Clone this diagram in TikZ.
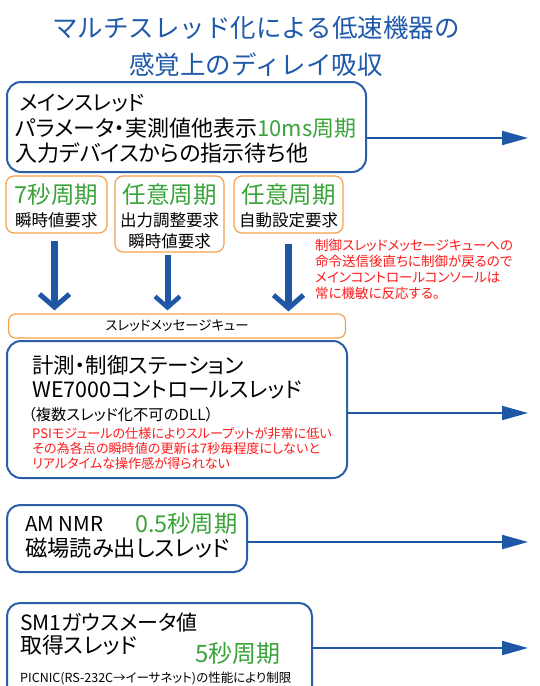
\documentclass[tikz,border=0pt]{standalone}
\usepackage{fontspec}
\setmainfont{Noto Sans CJK JP}[RawFeature=+palt]
\newfontfamily\titlefont{Noto Sans CJK JP}
\usetikzlibrary{arrows.meta}
\definecolor{boxblue}{HTML}{2A5EA8}
\definecolor{arrblue}{HTML}{1F56A6}
\definecolor{orng}{HTML}{F5A04A}
\definecolor{grn}{HTML}{3AA33A}
\definecolor{rd}{HTML}{FF1A1A}
\definecolor{ttl}{HTML}{1F5AAA}
\tikzset{
  fs/.style={font=\fontsize{#1}{#1}\selectfont},
  txt/.style={anchor=west, inner sep=0pt},
  ctxt/.style={anchor=center, inner sep=0pt},
  bluebox/.style={draw=boxblue, line width=2pt, rounded corners=14pt, fill=white},
  orbox/.style={draw=orng, line width=1.2pt, rounded corners=8pt, fill=white},
  rarrow/.style={draw=arrblue, line width=2pt, -{Triangle[length=26pt,width=14pt]}},
  darrow/.style={draw=arrblue, line width=7pt, -{Straight Barb[length=13pt,width=30pt,line width=5pt]}},
}
\begin{document}
\begin{tikzpicture}[x=1pt,y=-1pt]
\fill[white] (0,0) rectangle (539,686);
\useasboundingbox (0,0) rectangle (539,686);

% title
\node[ctxt, fs=25.5, text=ttl] (title1) at (256,27.5) {\titlefont マルチスレッド化による低速機器の};
\node[ctxt, fs=25.5, text=ttl] (title2) at (256,65) {\titlefont 感覚上のディレイ吸収};

% main thread box
\node[bluebox, minimum width=359pt, minimum height=90pt] (main) at (186.5,127) {};
\node[txt, fs=21] (m1) at (19,103) {メインスレッド};
\node[txt, fs=22] (m2) at (15,128) {パラメータ・実測値他表示\textcolor{grn}{10ms周期}};
\node[txt, fs=22] (m3) at (15,153) {入力デバイスからの指示待ち他};
\coordinate (e1) at (528,138);
\draw[rarrow] (main.east |- e1) -- (e1);

% request boxes
\node[orbox, minimum width=101pt, minimum height=57pt] (b1) at (56.5,204.5) {};
\node[orbox, minimum width=109pt, minimum height=76pt] (b2) at (169.5,214) {};
\node[orbox, minimum width=109pt, minimum height=57pt] (b3) at (288.5,204.5) {};
\node[ctxt, fs=23.5, text=grn] (g1) at (b1 |- 0,195) {7秒周期};
\node[ctxt, fs=16.5] (r1) at (b1 |- 0,220) {瞬時値要求};
\node[ctxt, fs=23.5, text=grn] (g2) at (b2 |- 0,195) {任意周期};
\node[ctxt, fs=16.5] (r2a) at (b2 |- 0,220) {出力調整要求};
\node[ctxt, fs=16.5] (r2b) at (b2 |- 0,241) {瞬時値要求};
\node[ctxt, fs=23.5, text=grn] (g3) at (b3 |- 0,195) {任意周期};
\node[ctxt, fs=16.5] (r3) at (b3 |- 0,220) {自動設定要求};

% note
\node[txt, fs=13.5, text=rd] (n1) at (315,245) {制御スレッドメッセージキューへの};
\node[txt, fs=13.5, text=rd] (n2) at (315,261) {命令送信後直ちに制御が戻るので};
\node[txt, fs=13.5, text=rd] (n3) at (315,277) {メインコントロールコンソールは};
\node[txt, fs=13.5, text=rd] (n4) at (315,293) {常に機敏に反応する。};

% queue
\node[orbox, rounded corners=7pt, minimum width=336.8pt, minimum height=24pt] (q) at (177,326) {};
\node[ctxt, fs=13.4] (qt) at (q.center) {スレッドメッセージキュー};

% down arrows
\draw[darrow, shorten <=7pt, shorten >=3pt] ([xshift=-2pt]b1.south) -- ([xshift=-2pt]b1.south |- q.north);
\draw[darrow, line width=6pt, -{Straight Barb[length=11pt,width=25pt,line width=4.5pt]}, shorten <=2pt, shorten >=3pt] ([xshift=-2pt]b2.south) -- ([xshift=-2pt]b2.south |- q.north);
\draw[darrow, shorten <=10pt, shorten >=2pt] (b3.south) -- (b3.south |- q.north);

% control box
\node[bluebox, minimum width=340pt, minimum height=137pt] (ctl) at (177,409.5) {};
\node[txt, fs=21.5] (c1) at (32,365) {計測・制御ステーション};
\node[txt, fs=21.5] (c2) at (32,390) {WE7000コントロールスレッド};
\node[txt, fs=15.3] (c3) at (28,415) {（複数スレッド化不可のDLL）};
\node[txt, fs=13.1, text=rd] (c4) at (32,434) {PSIモジュールの仕様によりスループットが非常に低い};
\node[txt, fs=13.1, text=rd] (c5) at (32,448.5) {その為各点の瞬時値の更新は7秒毎程度にしないと};
\node[txt, fs=13.1, text=rd] (c6) at (32,463) {リアルタイムな操作感が得られない};
\coordinate (e2) at (528,413);
\draw[rarrow] (ctl.east |- e2) -- (e2);

% AM NMR box
\node[bluebox, rounded corners=13pt, minimum width=240pt, minimum height=67pt] (am) at (127,538.5) {};
\node[txt, fs=20.5] (a1) at (25,524) {AM NMR};
\node[txt, fs=23.3, text=grn] (a2) at (135,524) {0.5秒周期};
\node[txt, fs=22.3] (a3) at (25,548) {磁場読み出しスレッド};
\coordinate (e3) at (528,542);
\draw[rarrow] (am.east |- e3) -- (e3);

% SM1 box
\node[bluebox, rounded corners=13pt, minimum width=305pt, minimum height=100pt] (sm) at (159.5,653) {};
\node[txt, fs=21] (s1) at (20,623) {SM1ガウスメータ値};
\node[txt, fs=21.8] (s2) at (20,645) {取得スレッド};
\node[txt, fs=24, text=grn] (s3) at (195,653) {5秒周期};
\node[txt, fs=12.5] (s4) at (20,678) {PICNIC(RS-232C→イーサネット)の性能により制限};
\coordinate (e4) at (528,648);
\draw[rarrow] (sm.east |- e4) -- (e4);
\end{tikzpicture}
\end{document}
